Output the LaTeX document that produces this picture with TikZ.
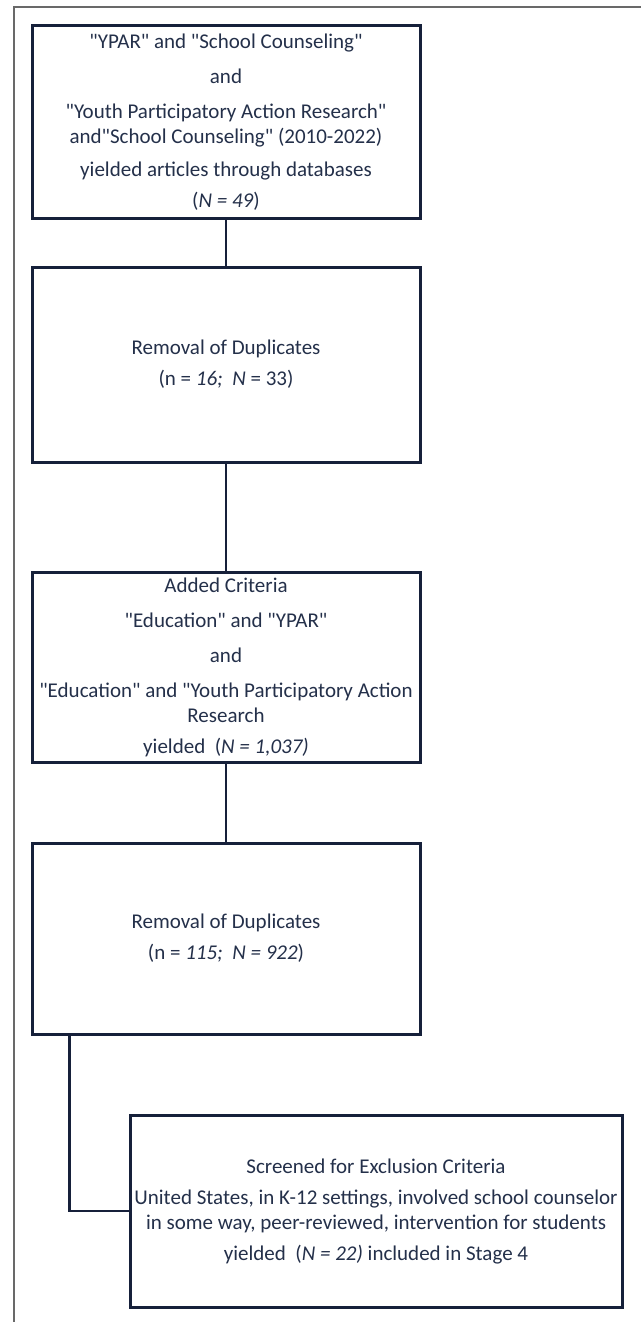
\documentclass[tikz,border=0pt]{standalone}
\usepackage{fontspec}
\setmainfont{Carlito}
\newcommand{\qq}{\textquotedbl{}}
\definecolor{navy}{RGB}{22,32,58}
\definecolor{txt}{RGB}{36,48,74}
\definecolor{framegray}{RGB}{105,105,105}
\tikzset{
  box/.style={draw=navy, line width=3pt, fill=white, text=txt, align=center,
    inner sep=0pt, font=\fontsize{21}{25}\selectfont},
  link/.style={draw=navy, line width=2.2pt},
  frame/.style={draw=framegray, line width=2pt}
}
\begin{document}
\begin{tikzpicture}[x=1pt,y=-1pt]
\useasboundingbox (0,0) rectangle (641,1322);
\coordinate (fb) at (14,1322);
\coordinate (fc) at (14,7);
\coordinate (fr) at (641,7);
\draw[frame] (fb) -- (fc) -- (fr);

\node[box, minimum width=388pt, minimum height=192pt] (b1) at (226,122)
  {\qq YPAR\qq{} and \qq School Counseling\qq\\[10pt]
   and\\[10pt]
   \qq Youth Participatory Action Research\qq\\
   and\qq School Counseling\qq{} (2010-2022)\\[8pt]
   yielded articles through databases\\[6pt]
   (\textit{N = 49})};

\node[box, minimum width=388pt, minimum height=195pt] (b2) at (226,364.5)
  {Removal of Duplicates\\[6pt]
   (n = \textit{16;}\ \ \textit{N} = 33)};

\node[box, minimum width=388pt, minimum height=190pt] (b3) at (226,667)
  {Added Criteria\\[10pt]
   \qq Education\qq{} and \qq YPAR\qq\\[10pt]
   and\\[10pt]
   \qq Education\qq{} and \qq Youth Participatory Action\\
   Research\\[6pt]
   yielded\ \ (\textit{N = 1,037)}};

\node[box, minimum width=388pt, minimum height=191pt] (b4) at (226,938.5)
  {Removal of Duplicates\\[6pt]
   (n = \textit{115;}\ \ \textit{N = 922})};

\node[box, minimum width=492pt, minimum height=192pt] (b5) at (376,1211)
  {Screened for Exclusion Criteria\\[6pt]
   United States, in K-12 settings, involved school counselor\\
   in some way, peer-reviewed, intervention for students\\[6pt]
   yielded\ \ (\textit{N = 22)} included in Stage 4};

\draw[link] (b1.south) -- (b2.north);
\draw[link] (b2.south) -- (b3.north);
\draw[link] (b3.south) -- (b4.north);
\coordinate (c4) at ([xshift=39pt]b4.south west);
\draw[link] (c4) |- (b5.west);
\end{tikzpicture}
\end{document}
